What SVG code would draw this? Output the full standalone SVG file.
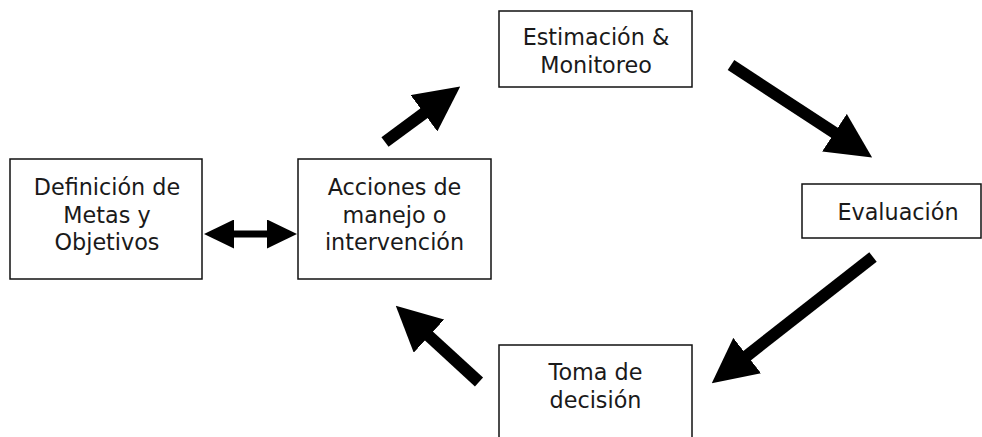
<svg xmlns="http://www.w3.org/2000/svg" width="982" height="437" viewBox="0 0 982 437">
  <style>
    .box { fill: #ffffff; stroke: #111111; stroke-width: 1.5; }
    .lbl { font-family: "DejaVu Sans", Verdana, sans-serif; font-size: 22.3px; fill: #1a1a1a; text-anchor: middle; }
    .big { stroke: #000000; stroke-width: 12; fill: none; marker-end: url(#bigHead); }
    .dbl { stroke: #000000; stroke-width: 7; fill: none; marker-start: url(#smallHead); marker-end: url(#smallHead); }
  </style>
  <defs>
    <marker id="bigHead" viewBox="0 0 45 45" markerWidth="45" markerHeight="45" refX="1" refY="22.5" orient="auto" markerUnits="userSpaceOnUse">
      <path d="M0,0 L45,22.5 L0,45 Z" fill="#000000"/>
    </marker>
    <marker id="smallHead" viewBox="0 0 30 29" markerWidth="30" markerHeight="29" refX="1" refY="14.5" orient="auto-start-reverse" markerUnits="userSpaceOnUse">
      <path d="M0,0 L30,14.5 L0,29 Z" fill="#000000"/>
    </marker>
  </defs>
  <rect width="982" height="437" fill="#ffffff"/>

  <g id="node-definicion">
    <rect class="box" x="10" y="159" width="192" height="120"/>
    <text class="lbl" x="107" y="195">Definición de</text>
    <text class="lbl" x="107" y="223">Metas y</text>
    <text class="lbl" x="107" y="250">Objetivos</text>
  </g>

  <g id="node-acciones">
    <rect class="box" x="298" y="159" width="193" height="120"/>
    <text class="lbl" x="394.5" y="195">Acciones de</text>
    <text class="lbl" x="394.5" y="223">manejo o</text>
    <text class="lbl" x="394.5" y="250">intervención</text>
  </g>

  <g id="node-estimacion">
    <rect class="box" x="499" y="11" width="193" height="76"/>
    <text class="lbl" x="596" y="45">Estimación &amp;</text>
    <text class="lbl" x="596" y="73">Monitoreo</text>
  </g>

  <g id="node-evaluacion">
    <rect class="box" x="802" y="184" width="179" height="54"/>
    <text class="lbl" x="898" y="220">Evaluación</text>
  </g>

  <g id="node-toma">
    <rect class="box" x="499" y="345" width="193" height="120"/>
    <text class="lbl" x="595.5" y="380">Toma de</text>
    <text class="lbl" x="595.5" y="408">decisión</text>
  </g>

  <g id="connectors">
    <line class="dbl" x1="233" y1="234" x2="268" y2="234"/>
    <line class="big" x1="385" y1="142" x2="424.8" y2="112.7"/>
    <line class="big" x1="731" y1="65" x2="835.3" y2="133.3"/>
    <line class="big" x1="873" y1="257" x2="746.4" y2="356.2"/>
    <line class="big" x1="479" y1="382" x2="428.2" y2="335.4"/>
  </g>
</svg>
